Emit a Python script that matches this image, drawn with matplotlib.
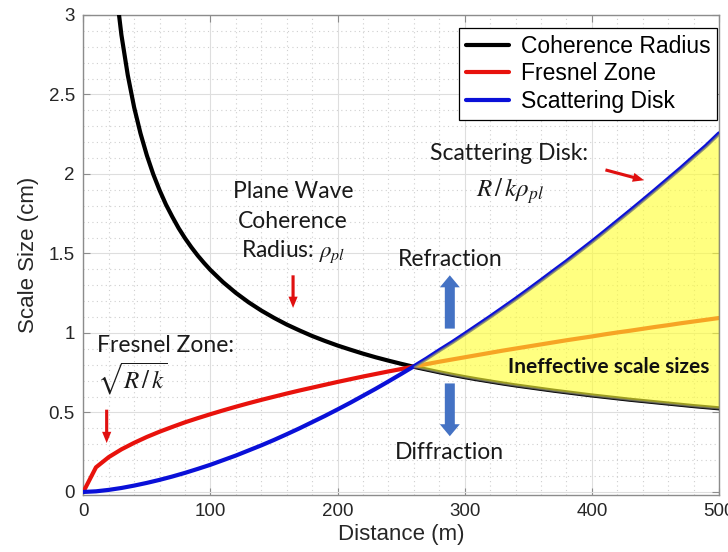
import matplotlib
matplotlib.use("Agg")
import matplotlib.pyplot as plt
from matplotlib.ticker import MultipleLocator, FuncFormatter
from matplotlib.patches import FancyArrowPatch
import numpy as np

plt.rcParams['font.family'] = ['Liberation Sans', 'DejaVu Sans']
plt.rcParams['mathtext.fontset'] = 'stix'

# Distance samples (m) for the Fresnel zone and scattering disk
distance = list(range(0, 501, 10))

# Distance samples (m) for the coherence radius (finer where it bends)
distance_rho = list(range(20, 100, 5)) + list(range(100, 501, 10))

# Plane-wave coherence radius rho_pl (cm)
coherence_radius = [
    3.667, 3.208, 2.874, 2.621, 2.419, 2.255, 2.117, 1.999,
    1.898, 1.808, 1.731, 1.659, 1.596, 1.539, 1.487, 1.440,
    1.396, 1.319, 1.252, 1.193, 1.141, 1.095, 1.053, 1.016, 0.981, 0.950,
    0.921, 0.895, 0.870, 0.847, 0.826, 0.806, 0.787, 0.770, 0.753, 0.737,
    0.722, 0.708, 0.695, 0.682, 0.670, 0.659, 0.648, 0.637, 0.627, 0.617,
    0.607, 0.598, 0.589, 0.580, 0.572, 0.564, 0.556, 0.548, 0.540, 0.533,
    0.526]

# Fresnel zone sqrt(R/k) (cm)
fresnel_zone = [0.0,
    0.155, 0.219, 0.268, 0.309, 0.346, 0.379, 0.409, 0.438, 0.464, 0.489,
    0.513, 0.536, 0.558, 0.579, 0.599, 0.619, 0.638, 0.656, 0.674, 0.692,
    0.709, 0.726, 0.742, 0.758, 0.773, 0.789, 0.804, 0.819, 0.833, 0.847,
    0.861, 0.875, 0.889, 0.902, 0.915, 0.928, 0.941, 0.954, 0.966, 0.978,
    0.991, 1.003, 1.014, 1.026, 1.038, 1.049, 1.061, 1.072, 1.083, 1.094]

# Scattering disk R/(k rho_pl) (cm)
scattering_disk = [0.0,
    0.004, 0.013, 0.025, 0.040, 0.057, 0.076, 0.097, 0.120, 0.145, 0.171,
    0.200, 0.229, 0.261, 0.293, 0.327, 0.363, 0.400, 0.439, 0.478, 0.519,
    0.561, 0.605, 0.649, 0.695, 0.742, 0.790, 0.839, 0.891, 0.941, 0.994,
    1.048, 1.102, 1.158, 1.214, 1.272, 1.331, 1.391, 1.450, 1.512, 1.574,
    1.638, 1.703, 1.768, 1.834, 1.901, 1.969, 2.037, 2.108, 2.178, 2.255]

series_labels = ['Coherence Radius', 'Fresnel Zone', 'Scattering Disk']
series_colors = ['#000000', '#e8120c', '#0a10d8']

x = np.array(distance, dtype=float)
xr = np.array(distance_rho, dtype=float)
rho = np.array(coherence_radius)
fz = np.array(fresnel_zone)
sd = np.array(scattering_disk)

fig = plt.figure(figsize=(7.28, 5.52), dpi=100)
ax = fig.add_axes([0.1144, 0.1033, 0.8732, 0.8696])

ax.set_xlim(0, 500)
ax.set_ylim(-0.019, 3)

# grid in MATLAB style
ax.xaxis.set_major_locator(MultipleLocator(100))
ax.xaxis.set_minor_locator(MultipleLocator(20))
ax.yaxis.set_major_locator(MultipleLocator(0.5))
ax.yaxis.set_minor_locator(MultipleLocator(0.1))
ax.yaxis.set_major_formatter(FuncFormatter(lambda v, p: f"{v:g}"))
ax.grid(which='major', color='#dedede', lw=0.8, ls='-')
ax.grid(which='minor', color='#cfcfcf', lw=0.8, ls=(0, (1, 3)))
ax.set_axisbelow(True)
for s in ax.spines.values():
    s.set_color('#8c8c8c')
    s.set_linewidth(1.0)
ax.tick_params(which='major', direction='in', length=5, color='#8c8c8c',
               top=True, right=True, labelsize=13.5, labelcolor='#262626', pad=6)
ax.tick_params(which='minor', length=0)

lines = []
for xs, vals, lab, col in zip([xr, x, x], [rho, fz, sd], series_labels, series_colors):
    ln, = ax.plot(xs, vals, color=col, lw=3.0, label=lab, solid_capstyle='round',
                  solid_joinstyle='round', zorder=3)
    lines.append(ln)

# ineffective region between coherence radius and scattering disk
mask = x >= 260
rho_on_x = np.interp(x[mask], xr, rho)
ax.fill_between(x[mask], rho_on_x, sd[mask], facecolor='#ffff33', alpha=0.62,
                edgecolor='#7a7a7a', lw=1.2, zorder=4)

ax.set_xlabel('Distance (m)', fontsize=16, color='#262626', labelpad=3)
ax.set_ylabel('Scale Size (cm)', fontsize=16, color='#262626', labelpad=7)

leg = ax.legend(handles=lines, loc='upper right', bbox_to_anchor=(0.997, 0.973),
                fontsize=16.5, frameon=True, fancybox=False, edgecolor='#000000',
                framealpha=1, borderpad=0.3, labelspacing=0.2, handlelength=1.9,
                handletextpad=0.5, borderaxespad=0.0)
leg.get_frame().set_linewidth(0.9)
for h in leg.get_lines():
    h.set_linewidth(3.0)

ann_font = ['Lato', 'DejaVu Sans']
tcol = '#1a1a1a'
fs = 16.5

ax.text(165, 1.887, 'Plane Wave', ha='center', va='center', fontsize=fs,
        family=ann_font, color=tcol, zorder=6)
ax.text(165, 1.698, 'Coherence', ha='center', va='center', fontsize=fs,
        family=ann_font, color=tcol, zorder=6)
ax.text(165, 1.509, r'Radius: $\rho_{pl}$', ha='center', va='center', fontsize=fs,
        family=ann_font, color=tcol, zorder=6)

ax.text(10.8, 0.92, 'Fresnel Zone:', ha='left', va='center', fontsize=fs,
        family=ann_font, color=tcol, zorder=6)
ax.text(10.5, 0.71, r'$\sqrt{R\,/\,k}$', ha='left', va='center', fontsize=18,
        color=tcol, zorder=6)

ax.text(272.6, 2.126, 'Scattering Disk:', ha='left', va='center', fontsize=fs,
        family=ann_font, color=tcol, zorder=6)
ax.text(335.5, 1.893, r'$R\,/\,k\rho_{pl}$', ha='center', va='center', fontsize=18,
        color=tcol, zorder=6)

ax.text(288.3, 1.465, 'Refraction', ha='center', va='center', fontsize=fs,
        family=ann_font, color=tcol, zorder=6)
ax.text(288.3, 0.25, 'Diffraction', ha='center', va='center', fontsize=fs,
        family=ann_font, color=tcol, zorder=6)

ax.text(334, 0.786, 'Ineffective scale sizes', ha='left', va='center',
        fontsize=15, fontweight='bold', family=ann_font, color='#111111', zorder=6)


def red_arrow(p0, p1):
    a = FancyArrowPatch(p0, p1, arrowstyle='simple,head_width=2.2,head_length=2.7,tail_width=0.75',
                        mutation_scale=3.0, color='#e01010', lw=0, zorder=6)
    ax.add_patch(a)


red_arrow((165, 1.38), (165, 1.14))
red_arrow((18.4, 0.535), (18.4, 0.29))
red_arrow((408.6, 2.03), (443.2, 1.956))


def blue_arrow(p0, p1):
    a = FancyArrowPatch(p0, p1, arrowstyle='simple,head_width=2.0,head_length=1.2,tail_width=1.0',
                        mutation_scale=7.2, color='#4472c4', lw=0, zorder=6)
    ax.add_patch(a)


blue_arrow((288.3, 1.01), (288.3, 1.38))
blue_arrow((288.3, 0.70), (288.3, 0.333))

fig.savefig('out.png', dpi=100)
